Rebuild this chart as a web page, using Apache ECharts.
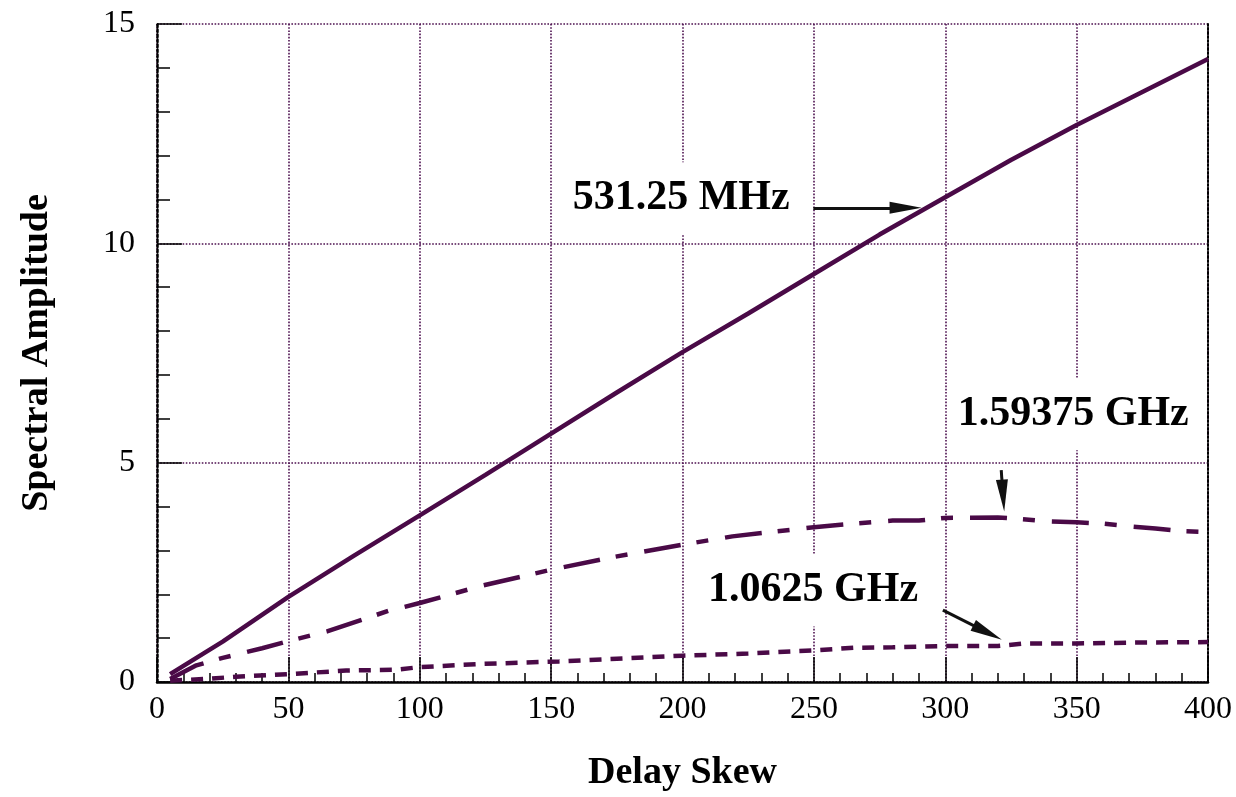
<!DOCTYPE html>
<html>
<head>
<meta charset="utf-8">
<style>
html,body{margin:0;padding:0;background:#fff;}
#chart{width:1236px;height:797px;}
</style>
<script src="https://cdn.jsdelivr.net/npm/echarts@6/dist/echarts.min.js"></script>
</head>
<body>
<div id="chart"></div>
<script>
// Delay skew (x) and spectral amplitude values
const x531 = [5, 25, 50, 75, 100, 125, 150, 175, 200, 225, 250, 275, 300, 325, 350, 375, 400];
const y531 = [0.18, 0.92, 1.94, 2.88, 3.8, 4.72, 5.66, 6.6, 7.52, 8.4, 9.3, 10.2, 11.05, 11.9, 12.7, 13.45, 14.2];

const x1594 = [5, 15, 25, 40, 50, 65, 88, 100, 124, 150, 172, 200, 219, 250, 265, 280, 290, 300, 320, 328, 340, 350, 360, 370, 380, 390, 400];
const y1594 = [0.07, 0.38, 0.55, 0.77, 0.93, 1.16, 1.62, 1.8, 2.2, 2.56, 2.83, 3.13, 3.32, 3.53, 3.61, 3.68, 3.68, 3.74, 3.75, 3.72, 3.66, 3.64, 3.61, 3.55, 3.5, 3.44, 3.42];

const x1063 = [5, 19, 30, 50, 72, 91, 100, 123, 153, 175, 200, 225, 250, 265, 280, 300, 320, 330, 350, 375, 400];
const y1063 = [0.03, 0.07, 0.12, 0.18, 0.26, 0.28, 0.34, 0.41, 0.47, 0.53, 0.6, 0.65, 0.72, 0.78, 0.79, 0.82, 0.82, 0.88, 0.88, 0.9, 0.91];

const xTicks = [0, 50, 100, 150, 200, 250, 300, 350, 400];
const yTicks = [0, 5, 10, 15];

const labels = ['531.25 MHz', '1.59375 GHz', '1.0625 GHz'];
const labelPos = [[199.5, 11.03], [348.7, 6.105], [249.7, 2.088]];
const arrows = [
  [[249.8, 10.81], [284.9, 10.81]],
  [[321.3, 4.83], [322.0, 4.25]],
  [[299.1, 1.64], [316.1, 1.126]]
];

const pair = (xs, ys) => xs.map((v, i) => [v, ys[i]]);
const lineColor = '#4a0a47';
const gridColor = '#4e1250';
const serif = 'Liberation Serif';

const chart = echarts.init(document.getElementById('chart'));
chart.setOption({
  animation: false,
  backgroundColor: '#fff',
  grid: { left: 157, right: 28, top: 24, bottom: 114 },
  xAxis: {
    type: 'value', min: 0, max: 400, interval: 50,
    name: 'Delay Skew', nameLocation: 'middle', nameGap: 72,
    nameTextStyle: { fontFamily: serif, fontWeight: 'bold', fontSize: 38, color: '#000' },
    axisLine: { show: true, lineStyle: { color: '#000', width: 2.5 } },
    axisTick: { show: true, inside: true, length: 25, lineStyle: { color: '#000', width: 1.5 } },
    minorTick: { show: true, splitNumber: 5, length: 9, lineStyle: { color: '#000', width: 1.5 } },
    axisLabel: { fontFamily: serif, fontSize: 32, color: '#000', margin: 12,
      formatter: v => xTicks.includes(v) ? String(v) : '' },
    splitLine: { show: true, lineStyle: { color: gridColor, type: 'dotted', width: 1.6 } }
  },
  yAxis: [{
    type: 'value', min: 0, max: 15, interval: 5,
    name: 'Spectral Amplitude', nameLocation: 'middle', nameGap: 101,
    nameTextStyle: { fontFamily: serif, fontWeight: 'bold', fontSize: 38, color: '#000' },
    axisLine: { show: true, lineStyle: { color: '#000', width: 2.5, type: 'dotted' } },
    axisTick: { show: true, inside: true, length: 25, lineStyle: { color: '#000', width: 1.5 } },
    minorTick: { show: true, splitNumber: 5, length: 13, lineStyle: { color: '#000', width: 1.5 } },
    axisLabel: { fontFamily: serif, fontSize: 32, color: '#000', margin: 22,
      formatter: v => yTicks.includes(v) ? String(v) : '' },
    splitLine: { show: true, lineStyle: { color: gridColor, type: 'dotted', width: 1.6 } }
  }, {
    type: 'value', min: 0, max: 15, interval: 5, position: 'right',
    axisLine: { show: true, lineStyle: { color: '#000', width: 2, type: 'dotted' } },
    axisTick: { show: false }, axisLabel: { show: false }, splitLine: { show: false }
  }],
  series: [
    {
      name: labels[0], type: 'line', data: pair(x531, y531), symbol: 'none',
      lineStyle: { color: lineColor, width: 4.5 },
      markPoint: {
        symbol: 'rect', symbolSize: 1, itemStyle: { color: 'rgba(0,0,0,0)' },
        label: { show: true, position: 'inside', fontFamily: serif, fontWeight: 'bold', fontSize: 42,
          color: '#000', lineHeight: 50, backgroundColor: '#fff', padding: [0, 8, 22, 8] },
        data: labels.map((t, i) => ({ coord: labelPos[i], label: { formatter: t } }))
      },
      markLine: {
        silent: true, animation: false,
        label: { show: false },
        lineStyle: { color: '#111', width: 3, type: 'solid' },
        symbol: ['none', 'triangle'], symbolSize: [12, 32],
        data: arrows.map(a => [{ coord: a[0], symbol: 'none' }, { coord: a[1], symbol: 'triangle', symbolSize: [12, 32] }])
      }
    },
    {
      name: labels[1], type: 'line', data: pair(x1594, y1594), symbol: 'none',
      lineStyle: { color: lineColor, width: 4.5, type: [37, 16, 12, 17] }
    },
    {
      name: labels[2], type: 'line', data: pair(x1063, y1063), symbol: 'none',
      lineStyle: { color: lineColor, width: 4.5, type: [12, 9] }
    }
  ]
});
</script>
</body>
</html>
